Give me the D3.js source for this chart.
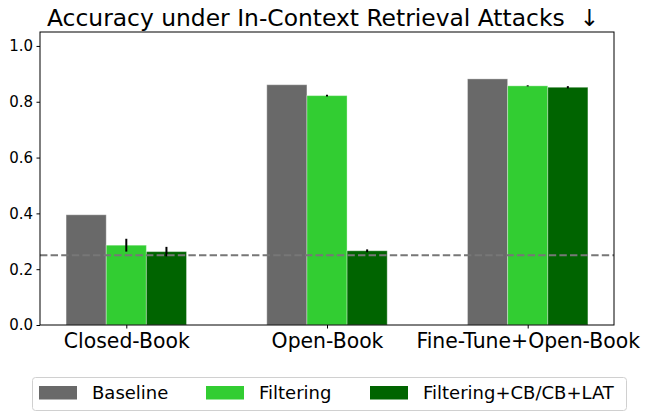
<!DOCTYPE html>
<html><head><meta charset="utf-8">
<script src="https://cdn.jsdelivr.net/npm/d3@7"></script>
<style>body{margin:0;background:#fff;} text{font-family:"DejaVu Sans",sans-serif;}</style>
</head><body>
<svg id="c" width="648" height="418"></svg>
<script>
const categories = ["Closed-Book", "Open-Book", "Fine-Tune+Open-Book"];
const seriesNames = ["Baseline", "Filtering", "Filtering+CB/CB+LAT"];
const baselineVals = [0.395, 0.861, 0.882];
const filteringVals = [0.286, 0.822, 0.857];
const cbVals = [0.263, 0.266, 0.852];
const baselineErr = [0, 0, 0];
const filteringErr = [0.023, 0.003, 0.002];
const cbErr = [0.017, 0.005, 0.004];
const chanceLevel = 0.25;
const yTicks = [0.0, 0.2, 0.4, 0.6, 0.8, 1.0];
const colors = ["#696969", "#32cd32", "#006400"];

const svg = d3.select("#c");
const L = 40, R = 614, T = 32, B = 325;
const x = d3.scaleLinear().domain([-0.43, 2.43]).range([L, R]);
const y = d3.scaleLinear().domain([0, 1.05]).range([B, T]);
const bw = 0.2;

const series = [baselineVals, filteringVals, cbVals];
const errs = [baselineErr, filteringErr, cbErr];

series.forEach((vals, s) => {
  const off = (s - 1) * bw;
  svg.append("g").selectAll("rect").data(vals).join("rect")
    .attr("x", (d, i) => x(i + off - bw / 2))
    .attr("width", x(bw) - x(0))
    .attr("y", d => y(d))
    .attr("height", d => y(0) - y(d))
    .attr("fill", colors[s])
    .attr("stroke", "#ffffff").attr("stroke-opacity", 0.35).attr("stroke-width", 1);
  svg.append("g").selectAll("line").data(vals.map((v, i) => ({v, e: errs[s][i], i})).filter(d => d.e > 0)).join("line")
    .attr("x1", d => x(d.i + off)).attr("x2", d => x(d.i + off))
    .attr("y1", d => y(d.v - d.e)).attr("y2", d => y(d.v + d.e))
    .attr("stroke", "#000").attr("stroke-width", 2);
});

// dashed chance line
svg.append("line")
  .attr("x1", L).attr("x2", R)
  .attr("y1", y(chanceLevel)).attr("y2", y(chanceLevel))
  .attr("stroke", "#777").attr("stroke-width", 2)
  .attr("stroke-dasharray", "7.4,3.2");

// frame
svg.append("rect").attr("x", L).attr("y", T).attr("width", R - L).attr("height", B - T)
  .attr("fill", "none").attr("stroke", "#000").attr("stroke-width", 1);

// y axis
const ya = svg.append("g").attr("transform", `translate(${L},0)`)
  .call(d3.axisLeft(y).tickValues(yTicks).tickFormat(d3.format(".1f")).tickSize(3.5).tickPadding(3.5));
ya.select(".domain").remove();
ya.selectAll("text").attr("font-size", 15).attr("fill", "#000").style("font-family", "DejaVu Sans");
ya.selectAll("line").attr("stroke", "#000");

// x axis
const xa = svg.append("g").attr("transform", `translate(0,${B})`)
  .call(d3.axisBottom(x).tickValues([0, 1, 2]).tickFormat(i => categories[i]).tickSize(3.5).tickPadding(5));
xa.select(".domain").remove();
xa.selectAll("text").attr("font-size", 20.4).attr("fill", "#000").style("font-family", "DejaVu Sans");
xa.selectAll("line").attr("stroke", "#000");

// title
svg.append("text").attr("x", 47).attr("y", 26).attr("text-anchor", "start")
  .attr("font-size", 23.4).style("white-space", "pre")
  .text("Accuracy under In-Context Retrieval Attacks  \u2193");

// legend
const lg = svg.append("g");
lg.append("rect").attr("x", 32.5).attr("y", 377.5).attr("width", 594).attr("height", 33)
  .attr("rx", 3).attr("fill", "#fff").attr("stroke", "#d0d0d0").attr("stroke-width", 1);
const lx = [39, 206, 370];
seriesNames.forEach((n, i) => {
  lg.append("rect").attr("x", lx[i]).attr("y", 386).attr("width", 38).attr("height", 13.5).attr("fill", colors[i]);
  lg.append("text").attr("x", lx[i] + 53).attr("y", 399).attr("font-size", 18).text(n);
});
</script>
</body></html>
